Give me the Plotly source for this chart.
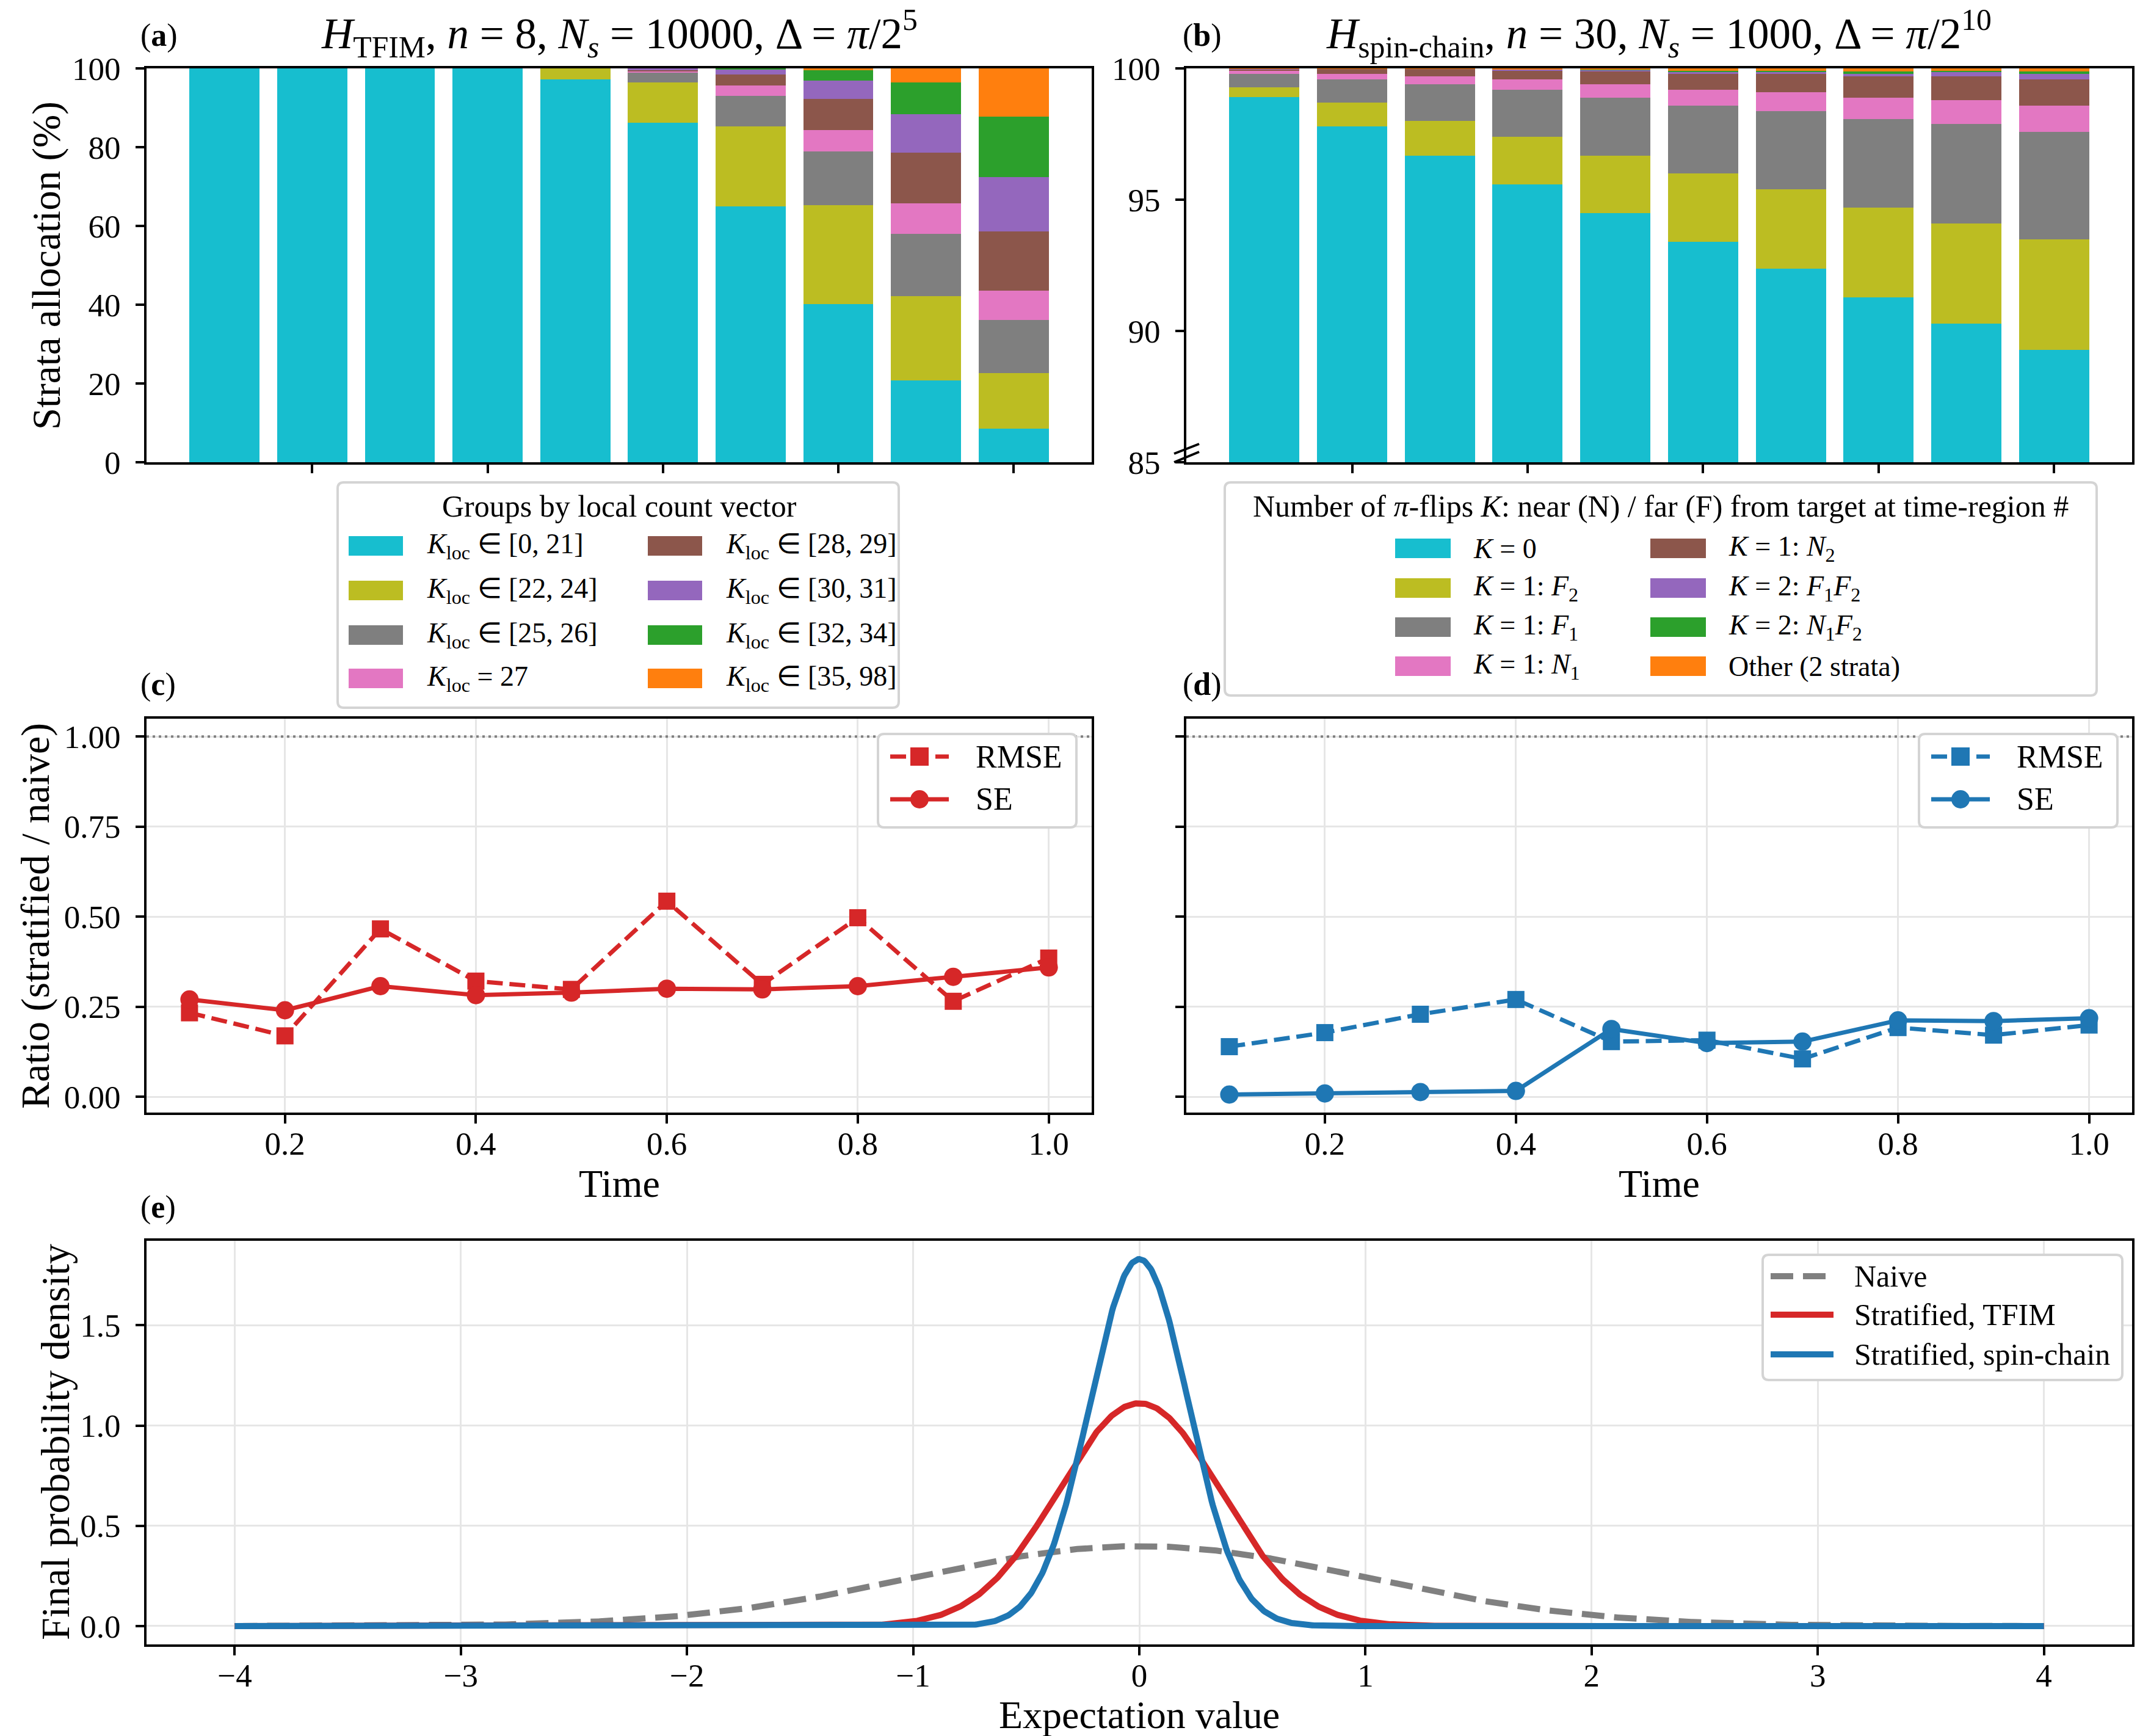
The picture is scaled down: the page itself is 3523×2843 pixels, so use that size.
import numpy as np
import plotly.graph_objects as go

# ---------------- data ----------------
TIMES = [0.1, 0.2, 0.3, 0.4, 0.5, 0.6, 0.7, 0.8, 0.9, 1.0]
TIME_TICKS = [0.2, 0.4, 0.6, 0.8, 1.0]

# Panel (a): strata allocation (%) for TFIM, groups by local count vector
A_K0_21 = [100, 100, 100, 100, 97.2, 86.2, 64.9, 40.2, 20.8, 8.5]
A_K22_24 = [0, 0, 0, 0, 2.8, 10.2, 20.3, 25.0, 21.4, 14.2]
A_K25_26 = [0, 0, 0, 0, 0, 2.5, 7.9, 13.7, 15.8, 13.5]
A_K27 = [0, 0, 0, 0, 0, 0.4, 2.5, 5.5, 7.7, 7.4]
A_K28_29 = [0, 0, 0, 0, 0, 0.3, 2.9, 7.9, 12.9, 15.0]
A_K30_31 = [0, 0, 0, 0, 0, 0.4, 1.2, 4.6, 9.7, 13.8]
A_K32_34 = [0, 0, 0, 0, 0, 0, 0.3, 2.6, 8.2, 15.3]
A_K35_98 = [0, 0, 0, 0, 0, 0, 0, 0.5, 3.5, 12.3]
A_LABELS = [
    "<i>K</i><sub>loc</sub> ∈ [0, 21]", "<i>K</i><sub>loc</sub> ∈ [22, 24]",
    "<i>K</i><sub>loc</sub> ∈ [25, 26]", "<i>K</i><sub>loc</sub> = 27",
    "<i>K</i><sub>loc</sub> ∈ [28, 29]", "<i>K</i><sub>loc</sub> ∈ [30, 31]",
    "<i>K</i><sub>loc</sub> ∈ [32, 34]", "<i>K</i><sub>loc</sub> ∈ [35, 98]",
]

# Panel (b): strata allocation (%) for spin-chain, number of pi-flips
B_K0 = [98.90, 97.79, 96.68, 95.59, 94.48, 93.39, 92.37, 91.28, 90.29, 89.28]
B_K1_F2 = [0.39, 0.90, 1.32, 1.81, 2.20, 2.61, 3.02, 3.42, 3.80, 4.20]
B_K1_F1 = [0.49, 0.90, 1.39, 1.79, 2.21, 2.59, 2.99, 3.38, 3.80, 4.11]
B_K1_N1 = [0.12, 0.20, 0.31, 0.39, 0.51, 0.59, 0.71, 0.81, 0.89, 1.00]
B_K1_N2 = [0.07, 0.19, 0.28, 0.35, 0.48, 0.61, 0.70, 0.81, 0.92, 1.00]
B_K2_F1F2 = [0.01, 0.01, 0.01, 0.04, 0.06, 0.09, 0.09, 0.09, 0.18, 0.20]
B_K2_N1F2 = [0.00, 0.00, 0.00, 0.00, 0.02, 0.02, 0.02, 0.09, 0.03, 0.09]
B_OTHER = [0.02, 0.01, 0.01, 0.03, 0.04, 0.10, 0.10, 0.12, 0.09, 0.12]
B_LABELS = [
    "<i>K</i> = 0", "<i>K</i> = 1: <i>F</i><sub>2</sub>", "<i>K</i> = 1: <i>F</i><sub>1</sub>",
    "<i>K</i> = 1: <i>N</i><sub>1</sub>", "<i>K</i> = 1: <i>N</i><sub>2</sub>",
    "<i>K</i> = 2: <i>F</i><sub>1</sub><i>F</i><sub>2</sub>",
    "<i>K</i> = 2: <i>N</i><sub>1</sub><i>F</i><sub>2</sub>", "Other (2 strata)",
]

# Panel (c)/(d): ratio stratified / naive
C_RMSE = [0.233, 0.169, 0.466, 0.321, 0.298, 0.543, 0.312, 0.497, 0.265, 0.385]
C_SE = [0.270, 0.240, 0.307, 0.282, 0.289, 0.300, 0.298, 0.307, 0.333, 0.359]
D_RMSE = [0.139, 0.178, 0.229, 0.270, 0.153, 0.157, 0.105, 0.192, 0.171, 0.199]
D_SE = [0.006, 0.009, 0.013, 0.016, 0.188, 0.149, 0.153, 0.212, 0.210, 0.218]
REF_LEVEL = 1.0

# Panel (e): final densities (normal, width = final SE ratio; naive width 1)
E_MEAN = 0.0
E_SIGMA_NAIVE = 1.0
E_SIGMA_TFIM = C_SE[-1]
E_SIGMA_SPIN = D_SE[-1]
E_XMIN, E_XMAX = -4.0, 4.0
E_LABELS = ["Naive", "Stratified, TFIM", "Stratified, spin-chain"]

# ---------------- style ----------------
W, H = 3523, 2843
FONT = "Liberation Serif"
CAT_COLORS = ["#17becf", "#bcbd22", "#7f7f7f", "#e377c2", "#8c564b", "#9467bd", "#2ca02c", "#ff7f0e"]
RED, BLUE, GREY = "#d62728", "#1f77b4", "#808080"
GRIDC = "#e6e6e6"
LEGC = "#d4d4d4"


def X(px):
    return px / W


def Y(py):
    return 1 - py / H


fig = go.Figure()

for vals, col in zip([A_K0_21, A_K22_24, A_K25_26, A_K27, A_K28_29, A_K30_31, A_K32_34, A_K35_98], CAT_COLORS):
    fig.add_trace(go.Bar(x=TIMES, y=vals, width=0.08, marker=dict(color=col, line=dict(width=0)),
                         xaxis="x", yaxis="y", showlegend=False))
for vals, col in zip([B_K0, B_K1_F2, B_K1_F1, B_K1_N1, B_K1_N2, B_K2_F1F2, B_K2_N1F2, B_OTHER], CAT_COLORS):
    fig.add_trace(go.Bar(x=TIMES, y=vals, width=0.08, marker=dict(color=col, line=dict(width=0)),
                         xaxis="x2", yaxis="y2", showlegend=False))

LW = 7
DASH = "26px,11px"
MS = 30
for (rm, se, col, xa, ya) in [(C_RMSE, C_SE, RED, "x3", "y3"), (D_RMSE, D_SE, BLUE, "x4", "y4")]:
    fig.add_trace(go.Scatter(x=TIMES, y=rm, mode="lines+markers", xaxis=xa, yaxis=ya, showlegend=False,
                             line=dict(color=col, width=LW, dash=DASH),
                             marker=dict(symbol="square", size=MS - 2, color=col, line=dict(width=0))))
    fig.add_trace(go.Scatter(x=TIMES, y=se, mode="lines+markers", xaxis=xa, yaxis=ya, showlegend=False,
                             line=dict(color=col, width=LW),
                             marker=dict(symbol="circle", size=MS, color=col, line=dict(width=0))))

xs = np.linspace(E_XMIN, E_XMAX, 1601)


def normal_pdf(x, mu, s):
    return np.exp(-0.5 * ((x - mu) / s) ** 2) / (s * np.sqrt(2 * np.pi))


dens = [normal_pdf(xs, E_MEAN, s) for s in (E_SIGMA_NAIVE, E_SIGMA_TFIM, E_SIGMA_SPIN)]
E_LW = 10
fig.add_trace(go.Scatter(x=xs, y=dens[0], mode="lines", xaxis="x5", yaxis="y5", showlegend=False,
                         line=dict(color=GREY, width=E_LW, dash="37px,16px")))
fig.add_trace(go.Scatter(x=xs, y=dens[1], mode="lines", xaxis="x5", yaxis="y5", showlegend=False,
                         line=dict(color=RED, width=E_LW)))
fig.add_trace(go.Scatter(x=xs, y=dens[2], mode="lines", xaxis="x5", yaxis="y5", showlegend=False,
                         line=dict(color=BLUE, width=E_LW)))
ymax = float(max(d.max() for d in dens))

TICKFONT = dict(family=FONT, size=53, color="black")
base_axis = dict(showline=True, linecolor="black", linewidth=4, mirror=True, ticks="outside",
                 ticklen=14, tickwidth=3.5, tickcolor="black", tickfont=TICKFONT, zeroline=False,
                 showgrid=False, gridcolor=GRIDC, gridwidth=3, automargin=False)
XSTAND = -13

AX_A = [X(240), X(1788)]
AX_B = [X(1943), X(3492)]
Y_TOP = [Y(757), Y(112)]
Y_MID = [Y(1822), Y(1177)]
Y_BOT = [Y(2693), Y(2032)]

fig.update_layout(
    width=W, height=H, autosize=False, margin=dict(l=0, r=0, t=0, b=0, pad=0),
    paper_bgcolor="white", plot_bgcolor="white", barmode="stack",
    font=dict(family=FONT, color="black"),
    xaxis=dict(base_axis, domain=AX_A, anchor="y", range=[0.011, 1.089], tickvals=TIME_TICKS,
               showticklabels=False),
    yaxis=dict(base_axis, domain=Y_TOP, anchor="x", range=[0, 100], tickvals=[0, 20, 40, 60, 80, 100],
               ticklabelstandoff=14),
    xaxis2=dict(base_axis, domain=AX_B, anchor="y2", range=[0.011, 1.089], tickvals=TIME_TICKS,
                showticklabels=False),
    yaxis2=dict(base_axis, domain=Y_TOP, anchor="x2", range=[85, 100], tickvals=[85, 90, 95, 100],
                ticklabelstandoff=14),
    xaxis3=dict(base_axis, domain=AX_A, anchor="y3", range=[0.055, 1.045], tickvals=TIME_TICKS,
                ticktext=["0.2", "0.4", "0.6", "0.8", "1.0"], showgrid=True, ticklabelstandoff=XSTAND),
    yaxis3=dict(base_axis, domain=Y_MID, anchor="x3", range=[-0.044, 1.0497],
                tickvals=[0, 0.25, 0.5, 0.75, 1.0], ticktext=["0.00", "0.25", "0.50", "0.75", "1.00"],
                showgrid=True, ticklabelstandoff=14),
    xaxis4=dict(base_axis, domain=AX_B, anchor="y4", range=[0.055, 1.045], tickvals=TIME_TICKS,
                ticktext=["0.2", "0.4", "0.6", "0.8", "1.0"], showgrid=True, ticklabelstandoff=XSTAND),
    yaxis4=dict(base_axis, domain=Y_MID, anchor="x4", range=[-0.044, 1.0497],
                tickvals=[0, 0.25, 0.5, 0.75, 1.0], showticklabels=False, showgrid=True),
    xaxis5=dict(base_axis, domain=[X(240), X(3492)], anchor="y5", range=[-4.39, 4.39],
                tickvals=[-4, -3, -2, -1, 0, 1, 2, 3, 4], showgrid=True, ticklabelstandoff=XSTAND),
    yaxis5=dict(base_axis, domain=Y_BOT, anchor="x5", range=[-0.05 * ymax, 1.05 * ymax],
                tickvals=[0, 0.5, 1.0, 1.5], ticktext=["0.0", "0.5", "1.0", "1.5"], showgrid=True,
                ticklabelstandoff=14),
)

shapes = []
# reference level lines
for xr, yr in [("x3 domain", "y3"), ("x4 domain", "y4")]:
    shapes.append(dict(type="line", xref=xr, yref=yr, x0=0, x1=1, y0=REF_LEVEL, y1=REF_LEVEL,
                       line=dict(color=GREY, width=4, dash="4px,6px"), layer="above"))
# axis break marks on panel (b)
for (x0, y0, x1, y1) in [(1923, 743, 1964, 727), (1923, 757, 1964, 740)]:
    shapes.append(dict(type="line", xref="paper", yref="paper", x0=X(x0), y0=Y(y0), x1=X(x1), y1=Y(y1),
                       line=dict(color="black", width=4), layer="above"))


def frame(x0, y0, x1, y1, r=10):
    rx, ry = r / W, r / H
    a, b, c, d = X(x0), Y(y0), X(x1), Y(y1)  # b top, d bottom
    path = (f"M{a + rx},{b} L{c - rx},{b} Q{c},{b} {c},{b - ry} L{c},{d + ry} Q{c},{d} {c - rx},{d} "
            f"L{a + rx},{d} Q{a},{d} {a},{d + ry} L{a},{b - ry} Q{a},{b} {a + rx},{b} Z")
    return dict(type="path", xref="paper", yref="paper", path=path, fillcolor="white",
                line=dict(color=LEGC, width=4), layer="above")


annotations = []


def text(x, y, s, size, xanchor="left", yanchor="middle", angle=0):
    annotations.append(dict(x=X(x), y=Y(y), xref="paper", yref="paper", text=s, showarrow=False,
                            xanchor=xanchor, yanchor=yanchor, textangle=angle,
                            font=dict(family=FONT, size=size, color="black")))


def patch(x0, x1, yc, col, h=32):
    shapes.append(dict(type="rect", xref="paper", yref="paper", x0=X(x0), x1=X(x1),
                       y0=Y(yc + h / 2), y1=Y(yc - h / 2), fillcolor=col, line=dict(width=0), layer="above"))


LEG_FS = 46
LEG_TITLE_FS = 50
# legend (a)
shapes.append(frame(553, 790, 1472, 1159))
text(1014, 829, "Groups by local count vector", LEG_TITLE_FS, xanchor="center")
rows_a = [894, 967, 1040, 1111]
for i in range(8):
    col_i, row_i = divmod(i, 4)
    px0 = 571 if col_i == 0 else 1061
    patch(px0, px0 + 89, rows_a[row_i], CAT_COLORS[i])
    text(px0 + 126, rows_a[row_i], A_LABELS[i], LEG_FS)

# legend (b)
shapes.append(frame(2006, 790, 3434, 1139))
text(2720, 829, "Number of <i>π</i>-flips <i>K</i>: near (N) / far (F) from target at time-region #",
     LEG_TITLE_FS, xanchor="center")
rows_b = [898, 963, 1027, 1091]
for i in range(8):
    col_i, row_i = divmod(i, 4)
    px0 = 2285 if col_i == 0 else 2703
    patch(px0, px0 + 91, rows_b[row_i], CAT_COLORS[i])
    text(px0 + 126, rows_b[row_i], B_LABELS[i], LEG_FS)


def line_entry(x0, x1, yc, col, dash, width, marker=None):
    shapes.append(dict(type="line", xref="paper", yref="paper", x0=X(x0), x1=X(x1), y0=Y(yc), y1=Y(yc),
                       line=dict(color=col, width=width, dash=dash), layer="above"))
    if marker:
        xc = (x0 + x1) / 2
        r = MS / 2
        shapes.append(dict(type="rect" if marker == "square" else "circle", xref="paper", yref="paper",
                           x0=X(xc - r), x1=X(xc + r), y0=Y(yc + r), y1=Y(yc - r),
                           fillcolor=col, line=dict(width=0), layer="above"))


SMALL_FS = 52
for (fx, col) in [(1438, RED), (3143, BLUE)]:
    shapes.append(frame(fx, 1202, fx + 325, 1355))
    line_entry(fx + 20, fx + 116, 1239, col, DASH, LW, "square")
    text(fx + 158, 1239, "RMSE", SMALL_FS)
    line_entry(fx + 20, fx + 116, 1309, col, "solid", LW, "circle")
    text(fx + 158, 1309, "SE", SMALL_FS)

# legend (e)
shapes.append(frame(2887, 2055, 3476, 2260))
for (yc, col, dash, lab) in [(2090, GREY, "37px,16px", E_LABELS[0]), (2153, RED, "solid", E_LABELS[1]),
                              (2218, BLUE, "solid", E_LABELS[2])]:
    line_entry(2900, 3003, yc, col, dash, E_LW)
    text(3035, yc, lab, 50)

# panel labels
for (x, y, s) in [(228, 58, "(<b>a</b>)"), (1935, 58, "(<b>b</b>)"), (228, 1121, "(<b>c</b>)"),
                  (1935, 1121, "(<b>d</b>)"), (228, 1977, "(<b>e</b>)")]:
    text(x, y, s, 52)

# titles
text(1014, 55, "<i>H</i><sub>TFIM</sub>, <i>n</i> = 8, <i>N</i><sub><i>s</i></sub> = 10000, "
               "Δ = <i>π</i>/2<sup>5</sup>", 71, xanchor="center")
text(2717, 55, "<i>H</i><sub>spin-chain</sub>, <i>n</i> = 30, <i>N</i><sub><i>s</i></sub> = 1000, "
               "Δ = <i>π</i>/2<sup>10</sup>", 71, xanchor="center")

# axis labels
text(76, 435, "Strata allocation (%)", 65, xanchor="center", angle=-90)
text(58, 1500, "Ratio (stratified / naive)", 66, xanchor="center", angle=-90)
text(90, 2362, "Final probability density", 66, xanchor="center", angle=-90)
text(1014, 1938, "Time", 64, xanchor="center")
text(2717, 1938, "Time", 64, xanchor="center")
text(1866, 2808, "Expectation value", 64, xanchor="center")

fig.update_layout(shapes=shapes, annotations=annotations)
fig.write_html("out.html")
